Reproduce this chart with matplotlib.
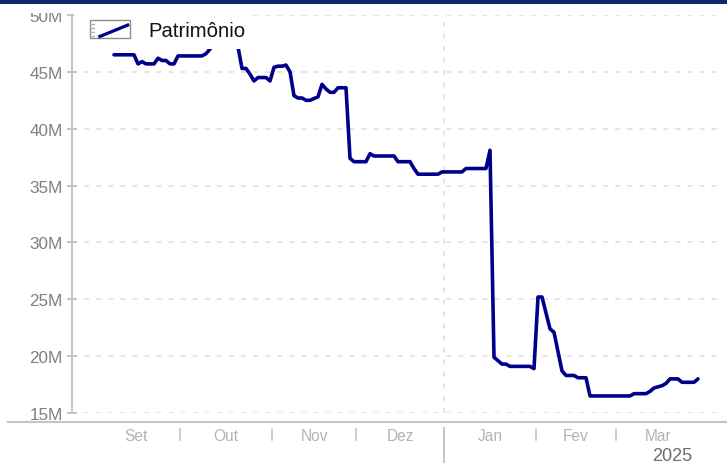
import numpy as np
import matplotlib
matplotlib.use("Agg")
import matplotlib.pyplot as plt
import matplotlib.transforms as mtransforms
from matplotlib.patches import Rectangle
from matplotlib.lines import Line2D
from matplotlib.legend_handler import HandlerBase

plt.rcParams['font.family'] = ['Liberation Sans', 'DejaVu Sans']

# ---------------- data ----------------
dates = [
    "2024-09-06", "2024-09-13", "2024-09-16", "2024-09-17", "2024-09-18", "2024-09-20",
    "2024-09-23", "2024-09-24", "2024-09-25", "2024-09-26", "2024-09-27", "2024-09-30",
    "2024-10-08", "2024-10-09", "2024-10-10", "2024-10-11", "2024-10-14", "2024-10-15",
    "2024-10-16", "2024-10-17", "2024-10-18", "2024-10-21", "2024-10-22", "2024-10-23",
    "2024-10-24", "2024-10-25", "2024-10-28", "2024-10-30", "2024-10-31", "2024-11-01",
    "2024-11-04", "2024-11-05", "2024-11-06", "2024-11-07", "2024-11-08", "2024-11-11",
    "2024-11-12", "2024-11-13", "2024-11-14", "2024-11-18", "2024-11-19", "2024-11-20",
    "2024-11-21", "2024-11-22", "2024-11-25", "2024-11-27", "2024-11-28", "2024-11-29",
    "2024-12-04", "2024-12-05", "2024-12-06", "2024-12-13", "2024-12-16", "2024-12-19",
    "2024-12-20", "2024-12-23", "2024-12-27", "2024-12-30", "2024-12-31", "2025-01-07",
    "2025-01-08", "2025-01-15", "2025-01-16", "2025-01-17", "2025-01-20", "2025-01-21",
    "2025-01-22", "2025-01-23", "2025-01-30", "2025-01-31", "2025-02-03", "2025-02-04",
    "2025-02-05", "2025-02-06", "2025-02-07", "2025-02-10", "2025-02-11", "2025-02-12",
    "2025-02-14", "2025-02-17", "2025-02-19", "2025-02-20", "2025-03-06", "2025-03-07",
    "2025-03-12", "2025-03-13", "2025-03-14", "2025-03-17", "2025-03-18", "2025-03-19",
    "2025-03-20", "2025-03-24", "2025-03-25", "2025-03-28", "2025-03-31",
]
patrimonio = [
    46.5, 46.5, 45.7, 45.9, 45.7, 45.7,
    46.2, 46.0, 46.0, 45.7, 45.7, 46.4,
    46.4, 46.6, 47.0, 47.6, 48.3, 48.6,
    48.9, 48.8, 48.5, 47.2, 45.3, 45.3,
    44.8, 44.2, 44.5, 44.5, 44.2, 45.4,
    45.5, 45.5, 45.6, 45.0, 42.9, 42.7,
    42.7, 42.5, 42.5, 42.8, 43.9, 43.5,
    43.2, 43.2, 43.6, 43.6, 37.4, 37.1,
    37.1, 37.8, 37.6, 37.6, 37.1, 37.1,
    36.5, 36.0, 36.0, 36.0, 36.2, 36.2,
    36.5, 36.5, 38.1, 19.9, 19.6, 19.3,
    19.3, 19.1, 19.1, 18.9, 25.2, 25.2,
    23.8, 22.4, 22.1, 20.4, 18.7, 18.3,
    18.3, 18.1, 18.1, 16.5, 16.5, 16.7,
    16.7, 16.9, 17.2, 17.3, 17.4, 17.6,
    18.0, 18.0, 17.7, 17.7, 18.0,
]
series_name = "Patrimônio"
month_labels = ["Set", "Out", "Nov", "Dez", "Jan", "Fev", "Mar"]
month_starts = ["2024-09-01", "2024-10-01", "2024-11-01", "2024-12-01",
                "2025-01-01", "2025-02-01", "2025-03-01", "2025-04-01"]
year_label = "2025"
year_start = "2025-01-01"
y_ticks = [15, 20, 25, 30, 35, 40, 45, 50]
y_tick_labels = [f"{v}M" for v in y_ticks]

# ---------------- helpers ----------------
ORIGIN = "2024-10-01"
def bd(d):
    return np.busday_count(ORIGIN, np.array(d, dtype="datetime64[D]"))

W, H = 727, 464
def fx(x):
    return x / W
def fy(y):
    return 1 - y / H

NAVY = "#00008b"
AXIS = "#c4c4c4"
GRID = "#dedede"
DASH = (0, (3.3, 4.6))

fig = plt.figure(figsize=(W / 100, H / 100), dpi=100)
fig.patch.set_facecolor("white")
ax = fig.add_axes([fx(72), fy(414), fx(722) - fx(72), fy(16) - fy(414)])

xs = bd(dates)
line, = ax.plot(xs, patrimonio, color=NAVY, lw=2.6, solid_joinstyle="round",
                solid_capstyle="round", zorder=3)

ax.set_xlim(-27.5, 135)
ax.set_ylim(15, 50)
ax.set_yticks(y_ticks, y_tick_labels)
ax.set_xticks([])
ax.set_axisbelow(True)
ax.yaxis.grid(True, color=GRID, lw=1.1, ls=DASH)
for s in ["top", "right", "bottom"]:
    ax.spines[s].set_visible(False)
ax.spines["left"].set_color(AXIS)
ax.spines["left"].set_linewidth(1.4)
ax.tick_params(axis="y", direction="inout", length=7.2, width=1.4, color=AXIS,
               labelcolor="#808080", labelsize=12.3, pad=3)

# year boundary dashed line
b = np.array([bd(m) for m in month_starts]) - 0.5
jan_b = bd(year_start) - 0.5
ax.axvline(jan_b, color=GRID, lw=1.1, ls=DASH, zorder=0.6)

# masks (legend background, top clip)
ax.add_patch(Rectangle((fx(74), fy(50)), fx(252) - fx(74), 45 / H,
                       transform=fig.transFigure, fc="white", ec="none",
                       zorder=4, clip_on=False))
ax.add_patch(Rectangle((0, fy(13.5)), fx(70), 8.5 / H, transform=fig.transFigure,
                       fc="white", ec="none", zorder=4, clip_on=False))

# legend with boxed icon
class BoxHandler(HandlerBase):
    def create_artists(self, legend, orig_handle, xdescent, ydescent, width,
                       height, fontsize, trans):
        x0, y0 = -xdescent, -ydescent
        arts = [Rectangle((x0, y0), width, height, fc="white", ec="#8c8c8c",
                          lw=1.0, transform=trans)]
        for f in (0.13, 0.33, 0.53, 0.75):
            arts.append(Line2D([x0, x0 + 0.09 * width], [y0 + f * height] * 2,
                               color="#b0b0b0", lw=0.9, transform=trans))
        arts.append(Line2D([x0 + 0.21 * width, x0 + 0.98 * width],
                           [y0 + 0.05 * height, y0 + 0.75 * height],
                           color=NAVY, lw=2.3, solid_capstyle="butt",
                           transform=trans))
        return arts

fs = 14.6
leg = ax.legend([line], [series_name], handler_map={line: BoxHandler()},
                loc="upper left", bbox_to_anchor=(fx(90), fy(21)),
                bbox_transform=fig.transFigure, frameon=False, borderpad=0,
                borderaxespad=0, handlelength=40 / 20.3, handleheight=20 / 20.3,
                handletextpad=18 / 20.3, prop={"size": fs})
leg.set_zorder(6)
for t in leg.get_texts():
    t.set_color("#111111")

# bottom axis
trans = mtransforms.blended_transform_factory(ax.transData, fig.transFigure)
fig.add_artist(Line2D([fx(8), fx(727)], [fy(422.5)] * 2, transform=fig.transFigure,
                      color=AXIS, lw=1.5))
for bb in b[1:-1]:
    if bb == jan_b:
        fig.add_artist(Line2D([bb, bb], [fy(429), fy(464)], transform=trans,
                              color=AXIS, lw=1.4))
    else:
        fig.add_artist(Line2D([bb, bb], [fy(430), fy(441)], transform=trans,
                              color=AXIS, lw=1.2))
for lab, s0, s1 in zip(month_labels, b[:-1], b[1:]):
    fig.text((s0 + s1) / 2, fy(441.5), lab, transform=trans, ha="center",
             va="baseline", color="#b3b3b3", fontsize=11.2)
fig.text(fx(672), fy(461), year_label, ha="center", va="baseline",
         color="#6e6e6e", fontsize=13)

# top band
fig.add_artist(Rectangle((0, fy(5)), 1, 5 / H, transform=fig.transFigure,
                         fc="#0c2a6b", ec="none"))

fig.savefig("out.png", dpi=100)
